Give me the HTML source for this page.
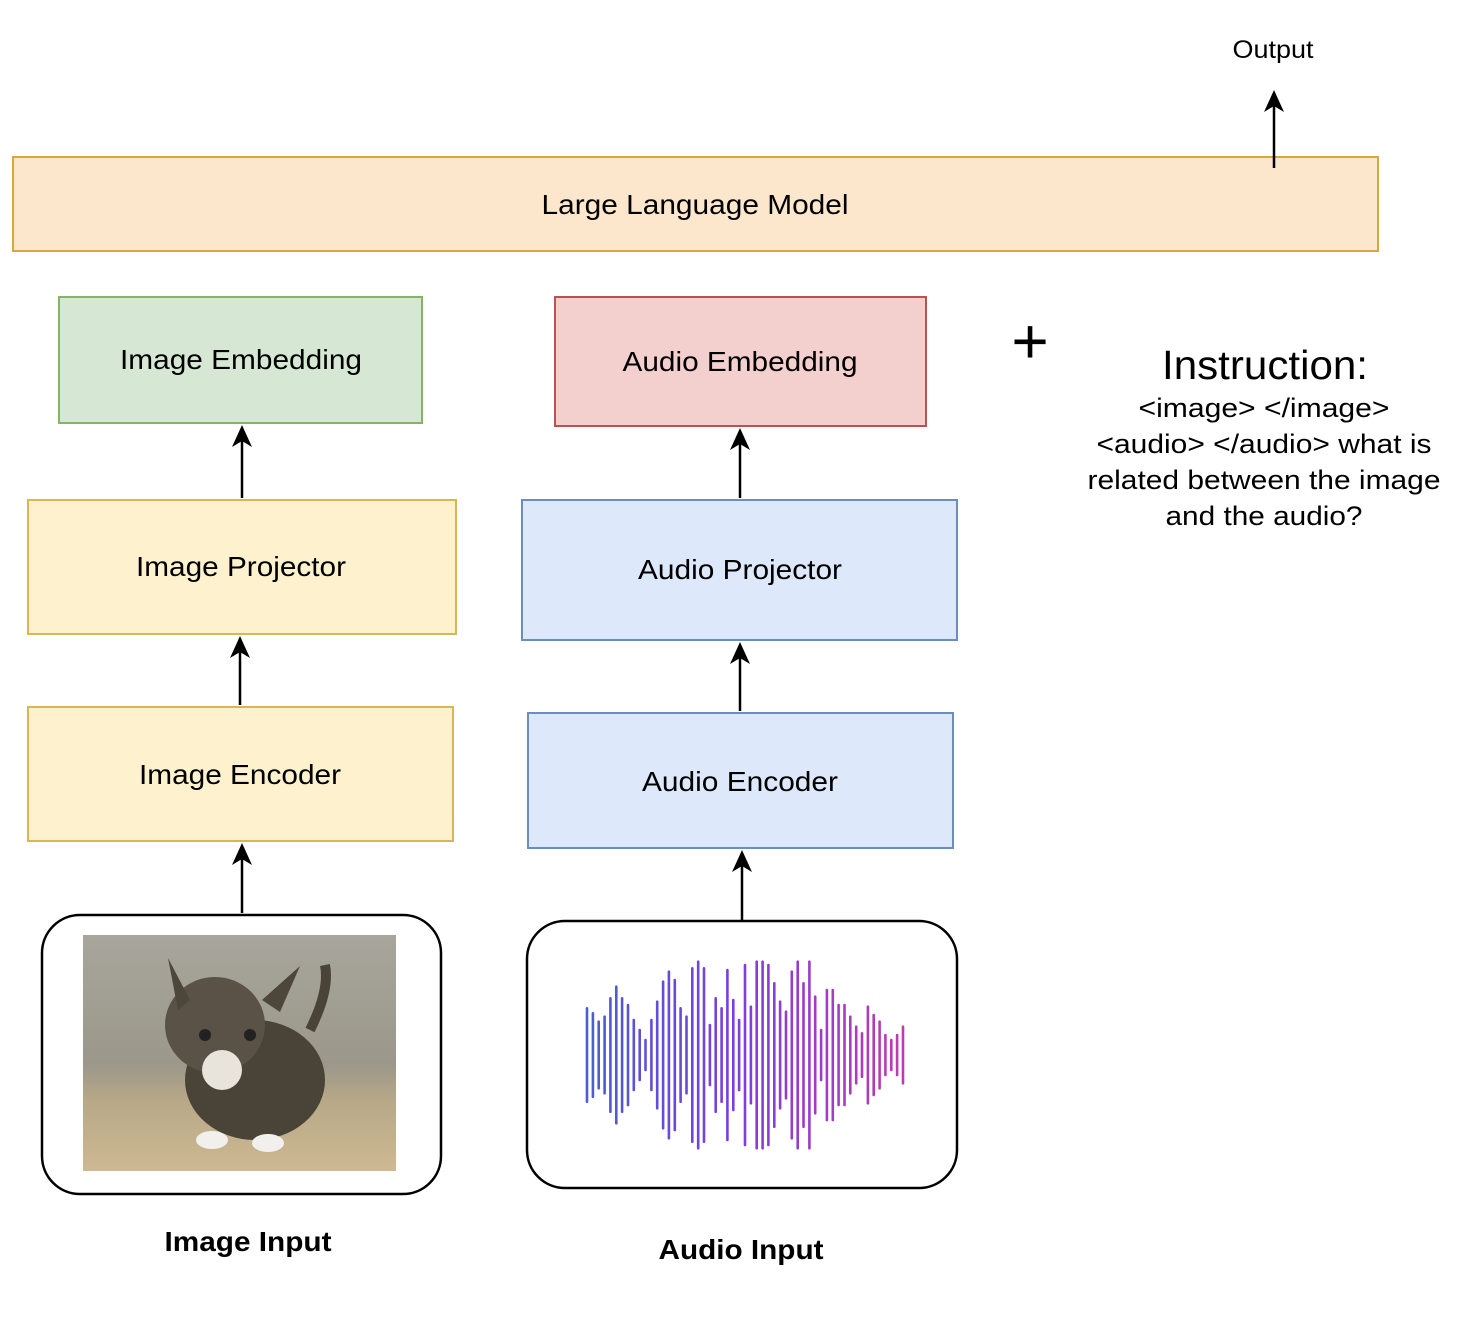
<!DOCTYPE html>
<html><head><meta charset="utf-8"><style>
body{margin:0;background:#fff;}
svg text{font-family:"Liberation Sans",Arial,sans-serif;fill:#000;}
</style></head><body>
<svg id="s" width="1468" height="1312" viewBox="0 0 1468 1312" xmlns="http://www.w3.org/2000/svg">
<defs>
<linearGradient id="wg" gradientUnits="userSpaceOnUse" x1="585" x2="905" y1="0" y2="0"><stop offset="0" stop-color="#4a5fd0"/><stop offset="0.45" stop-color="#7a3ee0"/><stop offset="1" stop-color="#c03ab0"/></linearGradient>
<linearGradient id="bg" x1="0" y1="0" x2="0" y2="1"><stop offset="0" stop-color="#a8a69c"/><stop offset="0.55" stop-color="#9b978a"/><stop offset="0.7" stop-color="#b8a888"/><stop offset="1" stop-color="#cdb992"/></linearGradient>
</defs>
<rect x="13" y="157" width="1365" height="94" fill="#fce6cc" stroke="#d8a73f" stroke-width="2"/>
<text x="695" y="214" font-size="28" text-anchor="middle" textLength="307" lengthAdjust="spacingAndGlyphs">Large Language Model</text>
<text x="1273" y="58" font-size="25" text-anchor="middle" textLength="81" lengthAdjust="spacingAndGlyphs">Output</text>

<rect x="59" y="297" width="363" height="126" fill="#d6e8d4" stroke="#84b468" stroke-width="2"/>
<text x="241" y="369" font-size="28" text-anchor="middle" textLength="242" lengthAdjust="spacingAndGlyphs">Image Embedding</text>
<rect x="555" y="297" width="371" height="129" fill="#f3cfcd" stroke="#b85450" stroke-width="2"/>
<text x="740" y="371" font-size="28" text-anchor="middle" textLength="235" lengthAdjust="spacingAndGlyphs">Audio Embedding</text>
<text x="1030" y="363" font-size="64" text-anchor="middle">+</text>
<text x="1265" y="379" font-size="41" text-anchor="middle" textLength="206" lengthAdjust="spacingAndGlyphs">Instruction:</text>
<text x="1264" y="417" font-size="27" text-anchor="middle" textLength="251" lengthAdjust="spacingAndGlyphs">&lt;image&gt; &lt;/image&gt;</text>
<text x="1264" y="453" font-size="27" text-anchor="middle" textLength="335" lengthAdjust="spacingAndGlyphs">&lt;audio&gt; &lt;/audio&gt; what is</text>
<text x="1264" y="489" font-size="27" text-anchor="middle" textLength="353" lengthAdjust="spacingAndGlyphs">related between the image</text>
<text x="1264" y="525" font-size="27" text-anchor="middle" textLength="197" lengthAdjust="spacingAndGlyphs">and the audio?</text>

<rect x="28" y="500" width="428" height="134" fill="#fdf2cd" stroke="#d6b656" stroke-width="2"/>
<text x="241" y="576" font-size="28" text-anchor="middle" textLength="210" lengthAdjust="spacingAndGlyphs">Image Projector</text>
<rect x="522" y="500" width="435" height="140" fill="#dde8fa" stroke="#6c8ebf" stroke-width="2"/>
<text x="740" y="579" font-size="28" text-anchor="middle" textLength="204" lengthAdjust="spacingAndGlyphs">Audio Projector</text>
<rect x="28" y="707" width="425" height="134" fill="#fdf2cd" stroke="#d6b656" stroke-width="2"/>
<text x="240" y="784" font-size="28" text-anchor="middle" textLength="202" lengthAdjust="spacingAndGlyphs">Image Encoder</text>
<rect x="528" y="713" width="425" height="135" fill="#dde8fa" stroke="#6c8ebf" stroke-width="2"/>
<text x="740" y="791" font-size="28" text-anchor="middle" textLength="196" lengthAdjust="spacingAndGlyphs">Audio Encoder</text>

<g stroke="#000" stroke-width="2.5" fill="none">
<line x1="1274" y1="168" x2="1274" y2="100"/>
<line x1="242" y1="498" x2="242" y2="435"/>
<line x1="240" y1="705" x2="240" y2="646"/>
<line x1="242" y1="913" x2="242" y2="853"/>
<line x1="740" y1="498" x2="740" y2="438"/>
<line x1="740" y1="711" x2="740" y2="652"/>
<line x1="742" y1="920" x2="742" y2="860"/>
</g>
<g fill="#000">
<path d="M1274 90 L1264 112 L1274 106 L1284 112Z"/>
<path d="M242 425 L232 447 L242 441 L252 447Z"/>
<path d="M240 636 L230 658 L240 652 L250 658Z"/>
<path d="M242 843 L232 865 L242 859 L252 865Z"/>
<path d="M740 428 L730 450 L740 444 L750 450Z"/>
<path d="M740 642 L730 664 L740 658 L750 664Z"/>
<path d="M742 850 L732 872 L742 866 L752 872Z"/>
</g>

<rect x="42" y="915" width="399" height="279" rx="38" fill="#fff" stroke="#000" stroke-width="2.5"/>
<rect x="83" y="935" width="313" height="236" fill="url(#bg)"/>
<g>
<ellipse cx="255" cy="1080" rx="70" ry="60" fill="#4a4338"/>
<ellipse cx="215" cy="1025" rx="50" ry="48" fill="#5a5246"/>
<path d="M168 958 L190 1000 L178 1010Z" fill="#4d463b"/>
<path d="M300 966 L262 1000 L280 1012Z" fill="#4d463b"/>
<ellipse cx="222" cy="1070" rx="20" ry="20" fill="#e8e4dc"/>
<ellipse cx="212" cy="1140" rx="16" ry="9" fill="#f2f0ec"/>
<ellipse cx="268" cy="1143" rx="16" ry="9" fill="#f2f0ec"/>
<path d="M310 1030 Q330 990 325 965" stroke="#4a4338" stroke-width="10" fill="none"/>
<circle cx="205" cy="1035" r="6" fill="#222"/><circle cx="250" cy="1035" r="6" fill="#222"/>
</g>

<rect x="527" y="921" width="430" height="267" rx="38" fill="#fff" stroke="#000" stroke-width="2.5"/>
<g id="wave" stroke="url(#wg)" stroke-width="2.6" stroke-linecap="round"></g>

<text x="248" y="1251" font-size="28" font-weight="bold" text-anchor="middle" textLength="167" lengthAdjust="spacingAndGlyphs">Image Input</text>
<text x="741" y="1259" font-size="28" font-weight="bold" text-anchor="middle" textLength="165" lengthAdjust="spacingAndGlyphs">Audio Input</text>
</svg>
<script>
var tops=[205,220,245,230,175,140,175,195,240,270,300,240,185,125,95,120,205,230,85,65,85,255,175,205,90,180,240,75,200,65,65,75,130,185,215,95,65,130,65,170,270,150,150,195,195,230,260,280,200,225,245,285,300,285,260];
var g=document.getElementById('wave'),n=tops.length,s='';
for(var i=0;i<n;i++){var x=587+i*(316/(n-1));var h=(345-tops[i])/3;
s+='<line x1="'+x.toFixed(1)+'" x2="'+x.toFixed(1)+'" y1="'+(1055-h).toFixed(1)+'" y2="'+(1055+h).toFixed(1)+'"/>';}
g.innerHTML=s;
</script>
</body></html>
